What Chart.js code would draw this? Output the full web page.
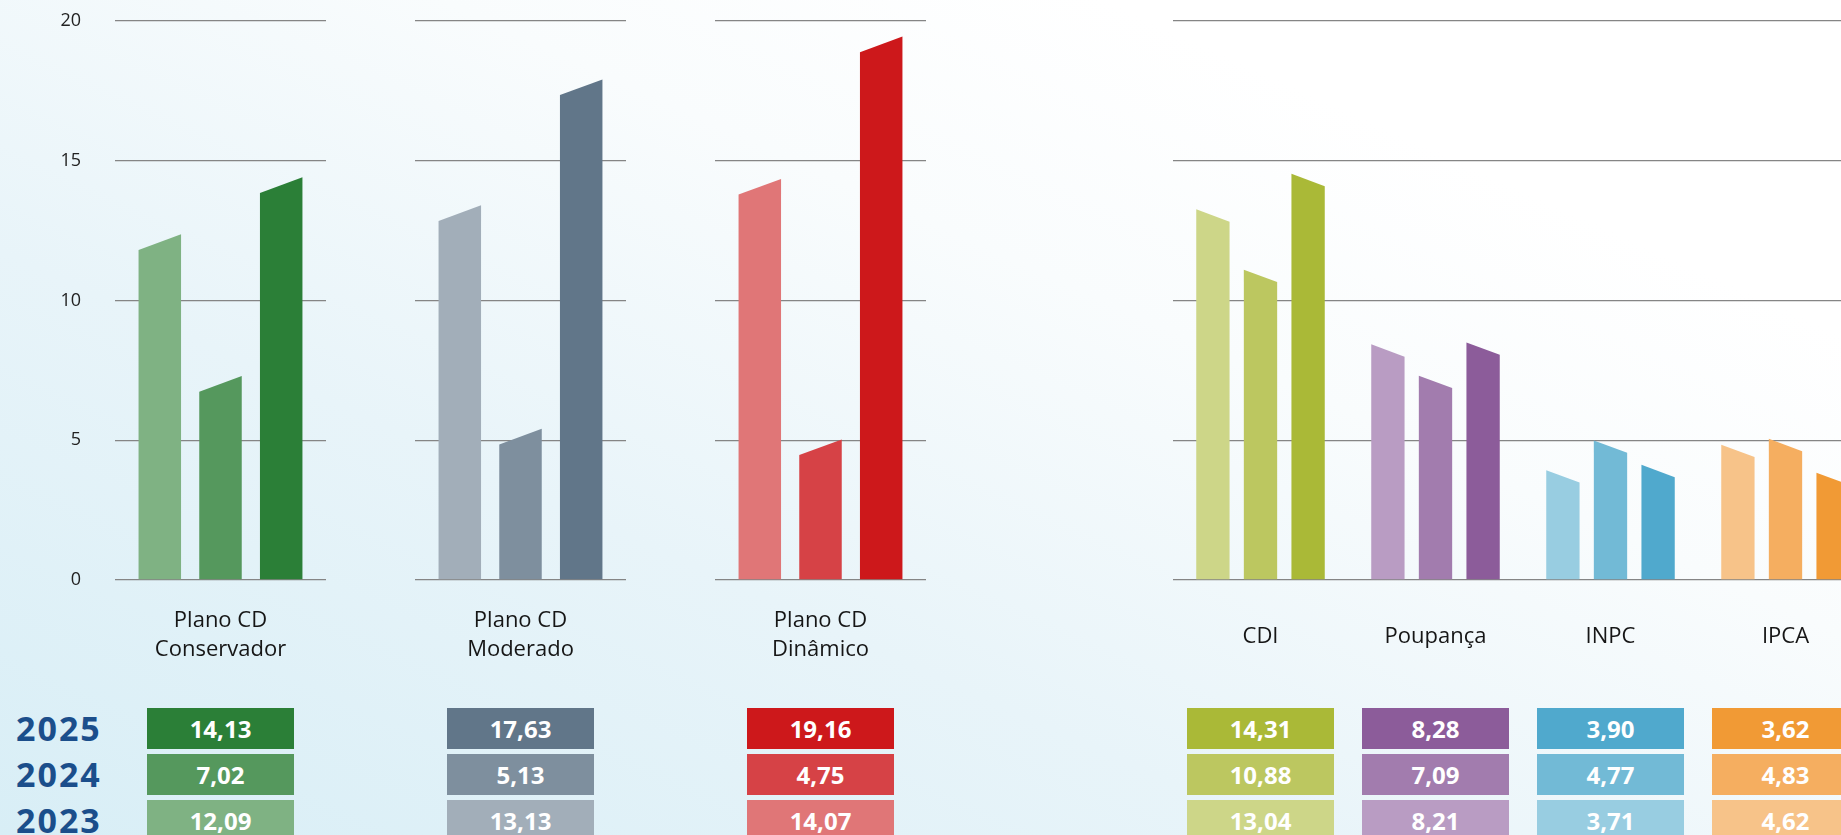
<!DOCTYPE html>
<html lang="pt-BR">
<head>
<meta charset="utf-8">
<title>Rentabilidade</title>
<script src="https://cdn.jsdelivr.net/npm/chart.js@4.4.1/dist/chart.umd.min.js"></script>
<style>
  html, body { margin: 0; padding: 0; }
  body {
    width: 1841px; height: 835px; overflow: hidden; position: relative;
    background: linear-gradient(to top right, #d8eef6 0%, #e8f4f9 35%, #f9fcfd 62%, #ffffff 80%);
    font-family: 'Open Sans', sans-serif;
  }
  canvas { position: absolute; top: 0; }
  .ano {
    position: absolute; left: 16px; height: 41px; line-height: 41px;
    font-weight: 700; font-size: 34px; color: #1b4e8b; letter-spacing: 2px;
  }
  .caixa {
    position: absolute; width: 147px; height: 41px; line-height: 41px;
    text-align: center; color: #fff; font-weight: 700; font-size: 24px;
  }
</style>
</head>
<body>
<canvas id="gConservador"></canvas>
<canvas id="gModerado"></canvas>
<canvas id="gDinamico"></canvas>
<canvas id="gIndices"></canvas>

<script>
// Dados (ordem dos valores: 2023, 2024, 2025)
const anos = ['2023', '2024', '2025'];
const planos = [['Plano CD', 'Conservador'], ['Plano CD', 'Moderado'], ['Plano CD', 'Dinâmico']];
const indices = ['CDI', 'Poupança', 'INPC', 'IPCA'];
const yTicks = [0, 5, 10, 15, 20];

const conservador = [12.09, 7.02, 14.13];
const moderado = [13.13, 5.13, 17.63];
const dinamico = [14.07, 4.75, 19.16];
const cdi = [13.04, 10.88, 14.31];
const poupanca = [8.21, 7.09, 8.28];
const inpc = [3.71, 4.77, 3.90];
const ipca = [4.62, 4.83, 3.62];

// Cores (claro -> escuro, 2023 -> 2025)
const corConservador = ['#7fb283', '#55985d', '#2b7f37'];
const corModerado = ['#a2aeb9', '#7e8f9e', '#617689'];
const corDinamico = ['#e07677', '#d64246', '#cd181b'];
const corCdi = ['#cdd688', '#bcc760', '#aab937'];
const corPoupanca = ['#b99cc3', '#a27cae', '#8c5c9a'];
const corInpc = ['#98cde1', '#72bad6', '#50a9cd'];
const corIpca = ['#f7c389', '#f5ae60', '#f19a35'];

const fonte = "'Open Sans', sans-serif";

// Barras com o topo inclinado
const topoInclinado = {
  id: 'inclinado',
  beforeDatasetDraw(chart, args, opts) {
    const ctx = chart.ctx;
    const ds = chart.data.datasets[args.index];
    ctx.save();
    args.meta.data.forEach((bar, j) => {
      const p = bar.getProps(['x', 'y', 'base', 'width'], true);
      const esq = p.x - p.width / 2, dir = p.x + p.width / 2;
      const s = p.width * 0.37 / 2;
      ctx.fillStyle = Array.isArray(ds.backgroundColor) ? ds.backgroundColor[j] : ds.backgroundColor;
      ctx.beginPath();
      ctx.moveTo(esq, p.base);
      ctx.lineTo(esq, p.y + opts.dir * s);
      ctx.lineTo(dir, p.y - opts.dir * s);
      ctx.lineTo(dir, p.base);
      ctx.closePath();
      ctx.fill();
    });
    ctx.restore();
    return false;
  }
};

function criarGrafico(id, left, width, labels, series, cores, opts) {
  const canvas = document.getElementById(id);
  canvas.width = width;
  canvas.height = 700;
  canvas.style.left = left + 'px';

  const datasets = anos.map((ano, i) => ({
    label: ano,
    data: series.map(s => s[i]),
    backgroundColor: cores.map(c => c[i]),
    categoryPercentage: opts.cat,
    barPercentage: opts.bar
  }));

  return new Chart(canvas, {
    type: 'bar',
    data: { labels: labels, datasets: datasets },
    options: {
      responsive: false,
      animation: false,
      events: [],
      layout: { padding: { top: 21, right: 0, bottom: 0, left: 0 } },
      plugins: {
        legend: { display: false },
        tooltip: { enabled: false },
        inclinado: { dir: opts.dir }
      },
      scales: {
        x: {
          grid: { display: false },
          border: { display: false },
          ticks: {
            color: '#161616',
            font: { family: fonte, size: 22, lineHeight: 1.32 },
            padding: opts.labelPad,
            maxRotation: 0,
            autoSkip: false
          },
          afterFit: s => { s.height = 120; s.paddingLeft = 0; s.paddingRight = 0; }
        },
        y: {
          min: 0,
          max: 20,
          grid: { color: '#858585', lineWidth: 1.3, drawTicks: false },
          border: { display: false },
          ticks: {
            display: opts.yWidth > 0,
            color: '#222',
            font: { family: fonte, size: 18 },
            padding: 34
          },
          afterBuildTicks: s => { s.ticks = yTicks.map(v => ({ value: v })); },
          afterFit: s => { s.width = opts.yWidth; s.paddingTop = 0; s.paddingBottom = 0; }
        }
      }
    },
    plugins: [topoInclinado]
  });
}

const optPlano = { cat: 0.863, bar: 0.70, dir: 1, labelPad: 18 };

const graficos = [
  { chart: criarGrafico('gConservador', 0, 326, [planos[0]], [conservador], [corConservador],
      Object.assign({ yWidth: 115 }, optPlano)), left: 0, series: [conservador], cores: [corConservador] },
  { chart: criarGrafico('gModerado', 415, 211, [planos[1]], [moderado], [corModerado],
      Object.assign({ yWidth: 0 }, optPlano)), left: 415, series: [moderado], cores: [corModerado] },
  { chart: criarGrafico('gDinamico', 715, 211, [planos[2]], [dinamico], [corDinamico],
      Object.assign({ yWidth: 0 }, optPlano)), left: 715, series: [dinamico], cores: [corDinamico] },
  { chart: criarGrafico('gIndices', 1173, 700, indices, [cdi, poupanca, inpc, ipca],
      [corCdi, corPoupanca, corInpc, corIpca],
      { yWidth: 0, cat: 0.816, bar: 0.70, dir: -1, labelPad: 34 }),
    left: 1173, series: [cdi, poupanca, inpc, ipca], cores: [corCdi, corPoupanca, corInpc, corIpca] }
];

// Tabela de valores (2025, 2024, 2023)
const ordemLinhas = [2, 1, 0];
const topoLinhas = [708, 754, 800];

ordemLinhas.forEach((i, r) => {
  const a = document.createElement('div');
  a.className = 'ano';
  a.style.top = topoLinhas[r] + 'px';
  a.textContent = anos[i];
  document.body.appendChild(a);

  graficos.forEach(g => {
    g.series.forEach((s, j) => {
      const cx = g.left + g.chart.scales.x.getPixelForValue(j);
      const d = document.createElement('div');
      d.className = 'caixa';
      d.style.left = (cx - 73.5) + 'px';
      d.style.top = topoLinhas[r] + 'px';
      d.style.background = g.cores[j][i];
      d.textContent = s[i].toFixed(2).replace('.', ',');
      document.body.appendChild(d);
    });
  });
});
</script>
</body>
</html>
